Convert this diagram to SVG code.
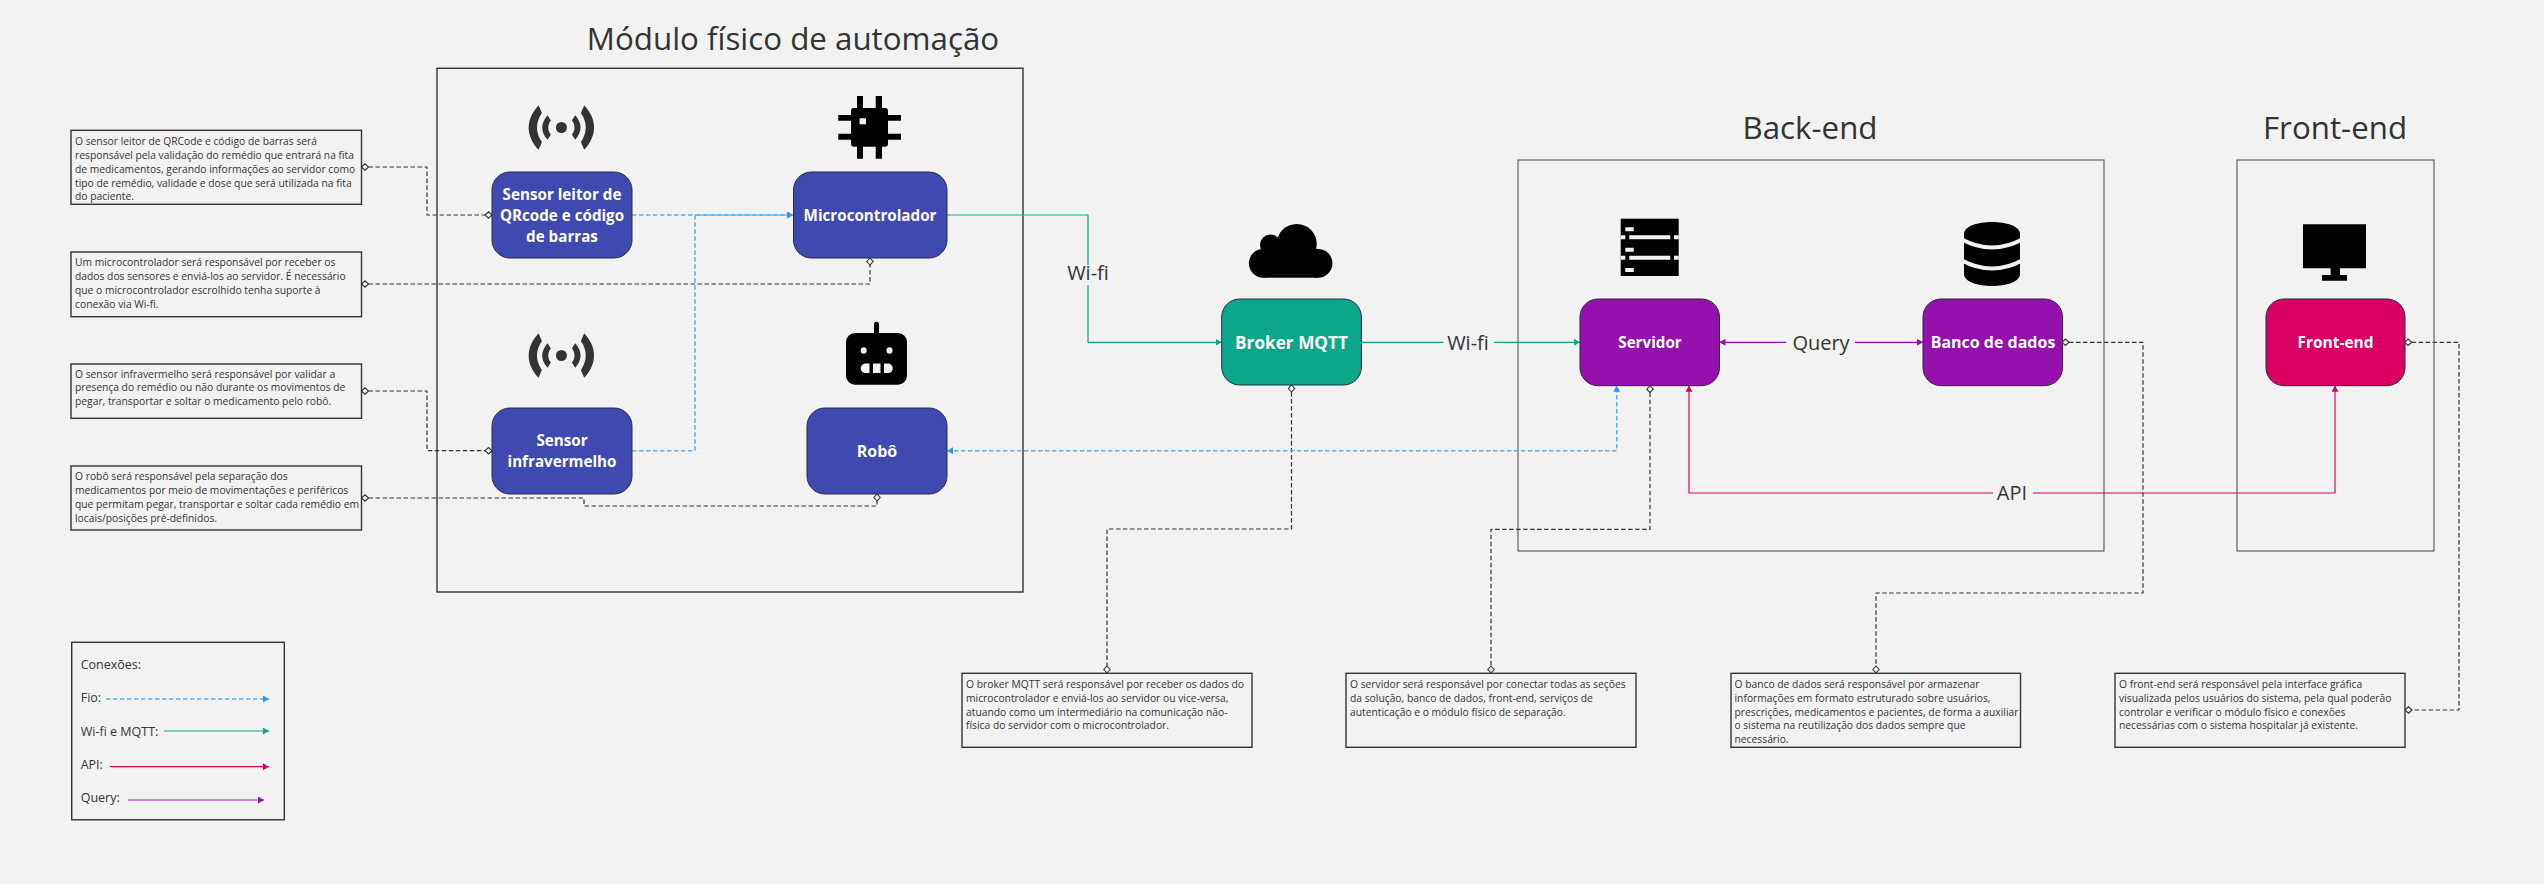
<svg xmlns="http://www.w3.org/2000/svg" width="2544" height="884" viewBox="0 0 2544 884">
<style>
text{font-family:"Open Sans","Noto Sans","Liberation Sans",sans-serif;fill:#333}
.title{font-size:31.300px;text-anchor:middle}
.note{font-size:10.300px;transform:translateY(-1px)}
.leg{font-size:12.500px}
.edge{font-size:20px;text-anchor:middle}
.lbl{font-size:15.200px;font-weight:700;fill:#fff;text-anchor:middle}
.box{fill:none;stroke:#333;stroke-width:1.400}
.thin{stroke:#444;stroke-width:1}
.nb{fill:#f2f2f2;stroke:#333;stroke-width:1.400}
.n{stroke:#2b2b45;stroke-width:1}
.bl{fill:#3f4ab0}.te{fill:#0ca789}.pu{fill:#9510ac}.pk{fill:#da0063}
.c{fill:none;stroke-linejoin:round}
.d{stroke:#333;stroke-width:1.200;stroke-dasharray:4.500 2.500;marker-start:url(#dia);marker-end:url(#dia)}
.f{stroke:#5aaff0;stroke-width:1.500;stroke-dasharray:4.500 2.500}
.w{stroke:#0ca789;stroke-width:1.200}
.a{stroke:#da0063;stroke-width:1.200}
.q{stroke:#9510ac;stroke-width:1.200}
.g{fill:#f2f2f2}
</style>
<defs>
<marker id="dia" markerUnits="userSpaceOnUse" markerWidth="10" markerHeight="10" refX="8" refY="4" orient="auto-start-reverse" viewBox="0 0 10 10"><path d="M1 4L4.500 .8L8 4L4.500 7.200Z" fill="#f2f2f2" stroke="#333" stroke-width="1.100"/></marker>
<marker id="af" markerUnits="userSpaceOnUse" markerWidth="8" markerHeight="8" refX="6" refY="3.500" orient="auto-start-reverse" viewBox="0 0 8 8"><path d="M0 0L6 3.500L0 7Z" fill="#2f95ea"/></marker>
<marker id="aw" markerUnits="userSpaceOnUse" markerWidth="8" markerHeight="8" refX="6" refY="3.500" orient="auto-start-reverse" viewBox="0 0 8 8"><path d="M0 0L6 3.500L0 7Z" fill="#0ca789"/></marker>
<marker id="aa" markerUnits="userSpaceOnUse" markerWidth="8" markerHeight="8" refX="6" refY="3.500" orient="auto-start-reverse" viewBox="0 0 8 8"><path d="M0 0L6 3.500L0 7Z" fill="#da0063"/></marker>
<marker id="aq" markerUnits="userSpaceOnUse" markerWidth="8" markerHeight="8" refX="6" refY="3.500" orient="auto-start-reverse" viewBox="0 0 8 8"><path d="M0 0L6 3.500L0 7Z" fill="#9510ac"/></marker>
<g id="radio"><circle cx="0" cy="0" r="5.500" fill="#333"/><path id="rh" d="M-22.800 -22.300C-36 -8 -36 8 -22.800 22.300L-19.500 14.500C-26 5 -26 -5 -19.500 -14.500ZM-13.800 -12.300C-21 -4 -21 4 -13.800 12.300L-10.500 7C-14 3 -14 -3 -10.500 -7Z" fill="#333"/><use href="#rh" transform="scale(-1 1)"/></g>
</defs>
<rect width="2544" height="884" fill="#f2f2f2"/>

<g id="containers">
<rect class="box" x="437" y="68.300" width="586" height="523.700"/>
<text class="title" x="793" y="50">Módulo físico de automação</text>
<rect class="box thin" x="1518" y="160" width="586" height="391"/>
<text class="title" x="1810" y="139">Back-end</text>
<rect class="box thin" x="2237" y="160" width="197" height="391"/>
<text class="title" x="2335" y="139">Front-end</text>
</g>

<g id="connectors">
<path class="c d" d="M361.500 167H427V215H492"/>
<path class="c d" d="M361.500 284H870V258"/>
<path class="c d" d="M361.500 391H427V450.700H492"/>
<path class="c d" d="M361.500 498H584V506H877V494"/>
<path class="c d" d="M1291.500 385V529H1107V673"/>
<path class="c d" d="M1650 385.700V529.300H1491V673"/>
<path class="c d" d="M2062 342.300H2143V593H1876V673"/>
<path class="c d" d="M2404.600 342.300H2459V710H2405"/>
<path class="c f" d="M632 215H793" marker-end="url(#af)"/>
<path class="c f" d="M632 450.700H695V215H793" marker-end="url(#af)"/>
<path class="c f" d="M947 450.700H1616.700V385.700" marker-start="url(#af)" marker-end="url(#af)"/>
<path class="c w" d="M947 215H1088V265M1088 285V342.300H1221.700" marker-end="url(#aw)"/>
<path class="c w" d="M1361.400 342.300H1443.500M1494 342.300H1580" marker-end="url(#aw)"/>
<path class="c q" d="M1786 342.300H1719.500" marker-end="url(#aq)"/>
<path class="c q" d="M1855 342.300H1923" marker-end="url(#aq)"/>
<path class="c a" d="M1993 493H1689V385.700" marker-end="url(#aa)"/>
<path class="c a" d="M2033 493H2335V385.700" marker-end="url(#aa)"/>
<text class="edge" x="1088" y="280">Wi-fi</text>
<text class="edge" x="1468" y="350">Wi-fi</text>
<text class="edge" x="1821" y="350">Query</text>
<text class="edge" x="2012" y="500">API</text>
</g>

<g id="node-sensor-qr">
<use href="#radio" x="561.400" y="127.500"/>
<rect class="n bl" x="492" y="172" width="140" height="86" rx="18"/>
<text class="lbl" x="562" y="200">Sensor leitor de</text>
<text class="lbl" x="562" y="221">QRcode e código</text>
<text class="lbl" x="562" y="242">de barras</text>
</g>
<g id="node-micro">
<path d="M857 96h6v12h12.700v-12h6.300v12h3a3 3 0 0 1 3 3v4h13v5.700h-13v13h13v6h-13v4a3 3 0 0 1-3 3h-3v12h-6.300v-12h-12.700v12h-6v-12h-3a3 3 0 0 1-3-3v-4h-12.700v-6h12.700v-13h-12.700v-5.700h12.700v-4a3 3 0 0 1 3-3h3z" fill="#000"/>
<rect class="g" x="859.600" y="118.300" width="6.400" height="6"/>
<rect class="n bl" x="793.500" y="172" width="153.500" height="86" rx="18"/>
<text class="lbl" x="870" y="220.500">Microcontrolador</text>
</g>
<g id="node-sensor-ir">
<use href="#radio" x="561.400" y="355.500"/>
<rect class="n bl" x="492" y="408" width="140" height="86" rx="18"/>
<text class="lbl" x="562" y="446">Sensor</text>
<text class="lbl" x="562" y="467">infravermelho</text>
</g>
<g id="node-robot">
<rect x="874" y="321.700" width="5" height="14" rx="2.500" fill="#000"/>
<rect x="846" y="333" width="61" height="51.700" rx="9" fill="#000"/>
<ellipse class="g" cx="863.700" cy="350.500" rx="3" ry="3.300"/>
<ellipse class="g" cx="889.500" cy="350.500" rx="3" ry="3.300"/>
<path class="g" d="M869.500 363.500h-4a4.800 4.800 0 0 0 0 9.600h4zM873 363.500h7.500v9.600h-7.500zM884 363.500h4a4.800 4.800 0 0 1 0 9.600h-4z"/>
<rect class="n bl" x="807" y="408" width="140" height="86" rx="18"/>
<text class="lbl" x="877" y="456.500" style="font-size:16px">Robô</text>
</g>
<g id="node-broker">
<g fill="#000"><circle cx="1263.300" cy="263.300" r="14.400"/><circle cx="1318" cy="263.300" r="14.400"/><circle cx="1270.500" cy="245" r="10.500"/><circle cx="1296.700" cy="244" r="20"/><rect x="1263" y="248.900" width="55" height="28.800"/></g>
<rect class="n te" x="1221.700" y="299" width="139.700" height="86" rx="18"/>
<text class="lbl" x="1291.500" y="348.500" style="font-size:17.200px">Broker MQTT</text>
</g>
<g id="node-server">
<rect x="1620.700" y="218.700" width="58" height="57.300" fill="#000"/>
<path class="g" d="M1620.700 235.300h4.600v4h-4.600zM1629.300 235.300h41v4h-41zM1674 235.300h4.700v4h-4.700zM1620.700 255.700h4.600v4h-4.600zM1629.300 255.700h41v4h-41zM1674 255.700h4.700v4h-4.700zM1625.300 227.300h8.400v4h-8.400zM1625.300 247.700h8.400v4h-8.400zM1625.300 268h8.400v4h-8.400z"/>
<rect class="n pu" x="1580" y="299" width="139.500" height="86.700" rx="18"/>
<text class="lbl" x="1650" y="347.500">Servidor</text>
</g>
<g id="node-db">
<path d="M1964 234c0-16 56-16 56 0v40c0 16-56 16-56 0z" fill="#000"/>
<path d="M1961 239Q1992 256 2023 239M1961 260Q1992 277 2023 260" fill="none" stroke="#f2f2f2" stroke-width="4"/>
<rect class="n pu" x="1923" y="299" width="139.500" height="86.700" rx="18"/>
<text class="lbl" x="1993" y="347.500" style="font-size:16px">Banco de dados</text>
</g>
<g id="node-front">
<path d="M2303 224.300h63v44h-26v6.700h7v5.700h-25v-5.700h8.600v-6.700h-27.600z" fill="#000"/>
<rect class="n pk" x="2266" y="299" width="139" height="86.700" rx="18"/>
<text class="lbl" x="2335.500" y="347.500" style="font-size:15.500px">Front-end</text>
</g>

<g id="note-sensor-qr">
<rect class="nb" x="71" y="130.300" width="290.500" height="74"/>
<text class="note"><tspan x="75" y="146">O sensor leitor de QRCode e código de barras será</tspan><tspan x="75" y="160">responsável pela validação do remédio que entrará na fita</tspan><tspan x="75" y="174">de medicamentos, gerando informações ao servidor como</tspan><tspan x="75" y="188">tipo de remédio, validade e dose que será utilizada na fita</tspan><tspan x="75" y="201">do paciente.</tspan></text>
</g>
<g id="note-micro">
<rect class="nb" x="71" y="252" width="290.500" height="64.700"/>
<text class="note"><tspan x="75" y="267">Um microcontrolador será responsável por receber os</tspan><tspan x="75" y="281">dados dos sensores e enviá-los ao servidor. É necessário</tspan><tspan x="75" y="295">que o microcontrolador escrolhido tenha suporte à</tspan><tspan x="75" y="309">conexão via Wi-fi.</tspan></text>
</g>
<g id="note-sensor-ir">
<rect class="nb" x="71" y="364" width="290.500" height="54.300"/>
<text class="note"><tspan x="75" y="379">O sensor infravermelho será responsável por validar a</tspan><tspan x="75" y="392">presença do remédio ou não durante os movimentos de</tspan><tspan x="75" y="406">pegar, transportar e soltar o medicamento pelo robô.</tspan></text>
</g>
<g id="note-robot">
<rect class="nb" x="71" y="466" width="290.500" height="64"/>
<text class="note"><tspan x="75" y="481">O robô será responsável pela separação dos</tspan><tspan x="75" y="495">medicamentos por meio de movimentações e periféricos</tspan><tspan x="75" y="509">que permitam pegar, transportar e soltar cada remédio em</tspan><tspan x="75" y="523">locais/posições pré-definidos.</tspan></text>
</g>
<g id="note-broker">
<rect class="nb" x="962" y="673.300" width="290" height="74"/>
<text class="note"><tspan x="966" y="689">O broker MQTT será responsável por receber os dados do</tspan><tspan x="966" y="703">microcontrolador e enviá-los ao servidor ou vice-versa,</tspan><tspan x="966" y="717">atuando como um intermediário na comunicação não-</tspan><tspan x="966" y="730">física do servidor com o microcontrolador.</tspan></text>
</g>
<g id="note-server">
<rect class="nb" x="1346" y="673.300" width="290" height="74"/>
<text class="note"><tspan x="1350" y="689">O servidor será responsável por conectar todas as seções</tspan><tspan x="1350" y="703">da solução, banco de dados, front-end, serviços de</tspan><tspan x="1350" y="717">autenticação e o módulo físico de separação.</tspan></text>
</g>
<g id="note-db">
<rect class="nb" x="1731" y="673.300" width="289.500" height="74"/>
<text class="note"><tspan x="1734.500" y="689">O banco de dados será responsável por armazenar</tspan><tspan x="1734.500" y="703">informações em formato estruturado sobre usuários,</tspan><tspan x="1734.500" y="717">prescrições, medicamentos e pacientes, de forma a auxiliar</tspan><tspan x="1734.500" y="730">o sistema na reutilização dos dados sempre que</tspan><tspan x="1734.500" y="744">necessário.</tspan></text>
</g>
<g id="note-front">
<rect class="nb" x="2115" y="673.300" width="290" height="74"/>
<text class="note"><tspan x="2119" y="689">O front-end será responsável pela interface gráfica</tspan><tspan x="2119" y="703">visualizada pelos usuários do sistema, pela qual poderão</tspan><tspan x="2119" y="717">controlar e verificar o módulo físico e conexões</tspan><tspan x="2119" y="730">necessárias com o sistema hospitalar já existente.</tspan></text>
</g>

<g id="legend">
<rect class="nb" x="71.700" y="642.300" width="212.600" height="177.500"/>
<text class="leg" x="80.700" y="669">Conexões:</text>
<text class="leg" x="80.700" y="702">Fio:</text>
<text class="leg" x="80.700" y="736">Wi-fi e MQTT:</text>
<text class="leg" x="80.700" y="769">API:</text>
<text class="leg" x="80.700" y="802">Query:</text>
<path class="c f" d="M106 699H269" marker-end="url(#af)"/>
<path class="c w" d="M164 731H269" marker-end="url(#aw)"/>
<path class="c a" d="M110 766.700H269" marker-end="url(#aa)"/>
<path class="c q" d="M128 800H264" marker-end="url(#aq)"/>
</g>
</svg>
